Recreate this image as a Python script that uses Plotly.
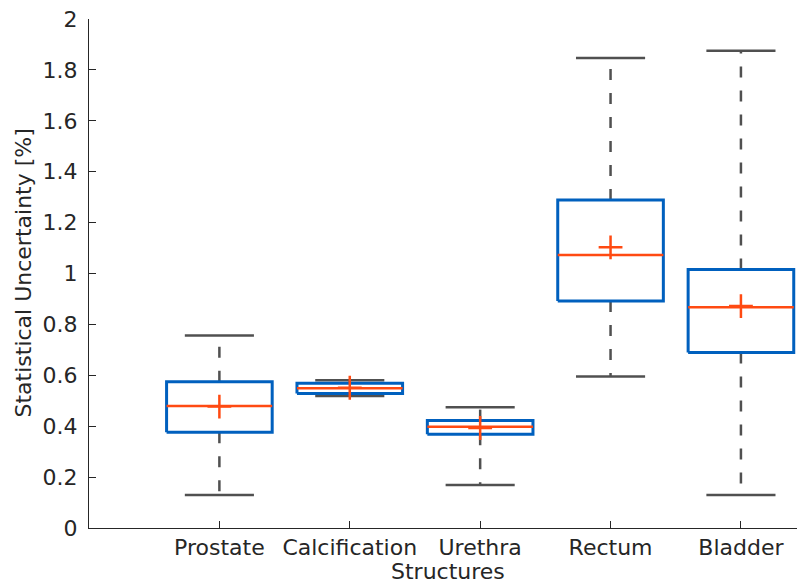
import plotly.graph_objects as go

# Box-plot summary statistics per structure (statistical uncertainty, %)
structures = ["Prostate", "Calcification", "Urethra", "Rectum", "Bladder"]
lower_whisker = [0.130, 0.519, 0.169, 0.595, 0.130]
q1 = [0.376, 0.528, 0.368, 0.892, 0.690]
median = [0.479, 0.549, 0.398, 1.073, 0.867]
q3 = [0.575, 0.569, 0.422, 1.289, 1.016]
upper_whisker = [0.756, 0.581, 0.474, 1.847, 1.875]
mean = [0.477, 0.551, 0.393, 1.103, 0.872]

y_ticks = [0, 0.2, 0.4, 0.6, 0.8, 1, 1.2, 1.4, 1.6, 1.8, 2]
y_tick_text = ["0", "0.2", "0.4", "0.6", "0.8", "1", "1.2", "1.4", "1.6", "1.8", "2"]

BOX_HALF = 0.405
CAP_HALF = 0.265
FONT = "DejaVu Sans, Liberation Sans, Arial, sans-serif"
FSIZE = 22
TEXT_COLOR = "#262626"
BOX_COLOR = "#0060BE"
MED_COLOR = "#FF4A12"
WHISK_COLOR = "#505050"

pos = list(range(1, len(structures) + 1))

# Build polyline coordinates (None separates segments)
box_x, box_y = [], []
med_x, med_y = [], []
wh_x, wh_y = [], []
cap_x, cap_y = [], []
for p, lo, a, m, b, hi in zip(pos, lower_whisker, q1, median, q3, upper_whisker):
    box_x += [p - BOX_HALF, p + BOX_HALF, p + BOX_HALF, p - BOX_HALF, p - BOX_HALF, None]
    box_y += [a, a, b, b, a, None]
    med_x += [p - BOX_HALF, p + BOX_HALF, None]
    med_y += [m, m, None]
    wh_x += [p, p, None, p, p, None]
    wh_y += [b, hi, None, a, lo, None]
    cap_x += [p - CAP_HALF, p + CAP_HALF, None, p - CAP_HALF, p + CAP_HALF, None]
    cap_y += [hi, hi, None, lo, lo, None]

fig = go.Figure()
fig.add_trace(go.Scatter(x=wh_x, y=wh_y, mode="lines", hoverinfo="skip",
                         line=dict(color=WHISK_COLOR, width=2.5, dash="11px,13px")))
fig.add_trace(go.Scatter(x=cap_x, y=cap_y, mode="lines", hoverinfo="skip",
                         line=dict(color=WHISK_COLOR, width=2.5)))
fig.add_trace(go.Scatter(x=box_x, y=box_y, mode="lines", hoverinfo="skip",
                         line=dict(color=BOX_COLOR, width=3)))
fig.add_trace(go.Scatter(x=med_x, y=med_y, mode="lines", hoverinfo="skip",
                         line=dict(color=MED_COLOR, width=2.5)))
fig.add_trace(go.Scatter(x=pos, y=mean, mode="markers",
                         marker=dict(symbol="cross-thin", size=17,
                                     line=dict(color=MED_COLOR, width=2.5))))

fig.update_layout(
    width=797, height=583,
    margin=dict(l=89, r=0, t=19, b=55),
    paper_bgcolor="white", plot_bgcolor="white",
    showlegend=False,
    font=dict(family=FONT, size=FSIZE, color=TEXT_COLOR),
    xaxis=dict(
        range=[0, 5.43], tickvals=pos, ticktext=structures,
        showgrid=False, zeroline=False,
        showline=True, linecolor=TEXT_COLOR, linewidth=1,
        ticks="inside", ticklen=7, tickcolor=TEXT_COLOR, tickwidth=1,
        tickfont=dict(family=FONT, size=FSIZE, color=TEXT_COLOR),
    ),
    yaxis=dict(
        range=[0, 2], tickvals=y_ticks, ticktext=y_tick_text,
        showgrid=False, zeroline=False,
        showline=True, linecolor=TEXT_COLOR, linewidth=1,
        ticks="inside", ticklen=7, tickcolor=TEXT_COLOR, tickwidth=1,
        ticklabelstandoff=6,
        tickfont=dict(family=FONT, size=FSIZE, color=TEXT_COLOR),
    ),
    annotations=[
        dict(text="Structures", xref="paper", yref="paper",
             x=(448 - 89) / 708, y=-(571 - 528) / 509, xanchor="center", yanchor="middle",
             showarrow=False, font=dict(family=FONT, size=FSIZE, color=TEXT_COLOR)),
        dict(text="Statistical Uncertainty [%]", xref="paper", yref="paper",
             x=(23 - 89) / 708, y=0.5, xanchor="center", yanchor="middle",
             textangle=-90, showarrow=False,
             font=dict(family=FONT, size=FSIZE, color=TEXT_COLOR)),
    ],
)

fig.write_html("out.html")
